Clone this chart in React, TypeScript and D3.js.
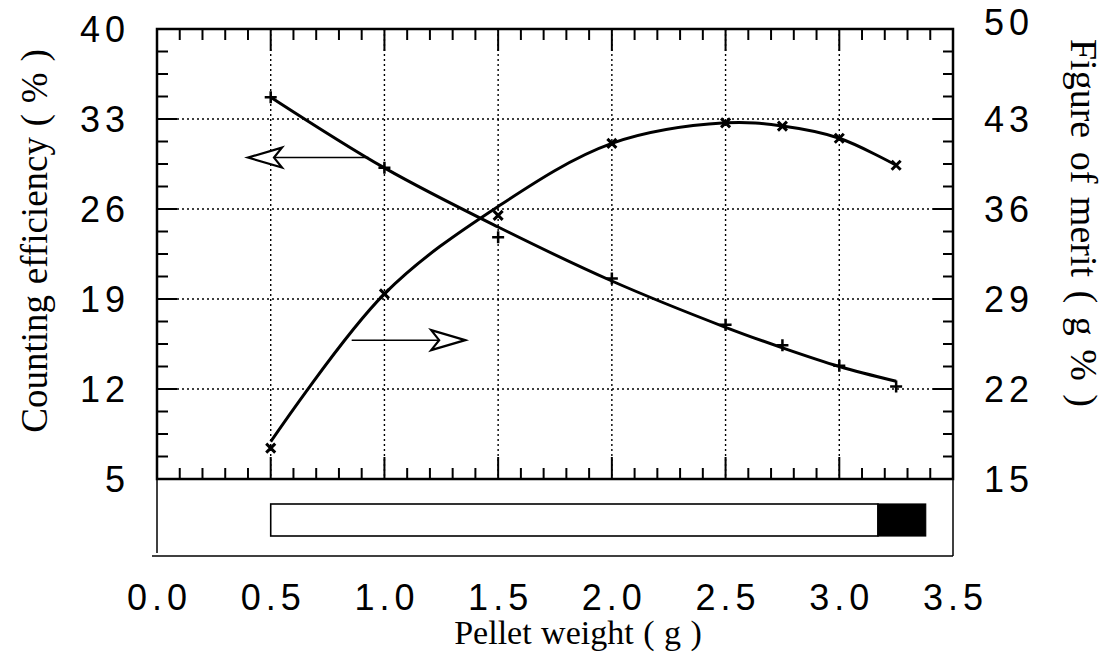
import React from "react";
import * as d3 from "d3";

// ---- data ----
const weights = [0.5, 1.0, 1.5, 2.0, 2.5, 2.75, 3.0, 3.25];
// measured points (left axis, "+" markers)
const efficiency = [34.7, 29.2, 23.8, 20.6, 17.0, 15.4, 13.8, 12.2];
// measured points (right axis, "x" markers)
const merit = [17.4, 29.4, 35.5, 41.1, 42.7, 42.45, 41.5, 39.4];
// fitted curves as drawn in the picture
const efficiencyFit = [34.7, 29.2, 24.6, 20.4, 16.8, 15.2, 13.75, 12.6];
const meritFit = [17.9, 29.4, 36.2, 41.1, 42.7, 42.45, 41.5, 39.4];

const xTickValues = [0, 0.5, 1.0, 1.5, 2.0, 2.5, 3.0, 3.5];
const xTickLabels = ["0.0", "0.5", "1.0", "1.5", "2.0", "2.5", "3.0", "3.5"];
const leftTickValues = [5, 12, 19, 26, 33, 40];
const leftTickLabels = ["5", "12", "19", "26", "33", "40"];
const rightTickValues = [15, 22, 29, 36, 43, 50];
const rightTickLabels = ["15", "22", "29", "36", "43", "50"];

// range bar in the lower panel (pellet weight)
const barWhite = [0.5, 3.17];
const barBlack = [3.17, 3.38];

// arrows: tip x, tail x, y
const leftArrow = { tip: 0.4, tail: 0.93, y: 30.0 }; // y on left axis
const rightArrow = { tip: 1.355, tail: 0.856, y: 25.8 }; // y on right axis

const W = 1112;
const H = 667;
const L = 157, R = 953, T = 29, B = 479;

export default function App() {
  const x = d3.scaleLinear().domain([0, 3.5]).range([L, R]);
  const yL = d3.scaleLinear().domain([5, 40]).range([B, T]);
  const yR = d3.scaleLinear().domain([15, 50]).range([B, T]);

  const lineL = d3
    .line<number>()
    .x((_, i) => x(weights[i]))
    .y((d) => yL(d))
    .curve(d3.curveCatmullRom.alpha(0.5));
  const lineR = d3
    .line<number>()
    .x((_, i) => x(weights[i]))
    .y((d) => yR(d))
    .curve(d3.curveCatmullRom.alpha(0.5));

  const xMinor = d3.range(0, 36).map((i) => i / 10);
  const yMinorL = d3.range(0, 21).map((i) => 5 + i * 1.75);
  const yMinorR = d3.range(0, 21).map((i) => 15 + i * 1.75);

  const tickFont = {
    fontFamily: "'Liberation Sans', Arial, sans-serif",
    fontSize: 36,
    letterSpacing: 5,
  } as React.CSSProperties;
  const titleFont = {
    fontFamily: "'Liberation Serif', 'Times New Roman', serif",
  } as React.CSSProperties;

  const arrowHead = (tx: number, ty: number, dir: number) => {
    const b = -dir * 34;
    const n = -dir * 26;
    return `M${tx},${ty} L${tx + b},${ty - 10} L${tx + n},${ty} L${tx + b},${ty + 10} Z`;
  };

  const laTip = x(leftArrow.tip), laY = yL(leftArrow.y);
  const raTip = x(rightArrow.tip), raY = yR(rightArrow.y);

  return (
    <svg
      width={W}
      height={H}
      style={{ position: "absolute", left: 0, top: 0, background: "#fff" }}
    >
      <rect x={0} y={0} width={W} height={H} fill="#fff" />
      {/* grid */}
      <g stroke="#000" strokeWidth={1.4} strokeDasharray="2,3">
        {xTickValues
          .filter((v) => v > 0 && v < 3.5)
          .map((v) => (
            <line key={"gx" + v} x1={x(v)} x2={x(v)} y1={T} y2={B} />
          ))}
        {leftTickValues
          .filter((v) => v > 5 && v < 40)
          .map((v) => (
            <line key={"gy" + v} x1={L} x2={R} y1={yL(v)} y2={yL(v)} />
          ))}
      </g>

      {/* ticks */}
      <g stroke="#000" strokeWidth={2}>
        {xMinor.map((v) => {
          const major = Math.abs(v * 2 - Math.round(v * 2)) < 1e-6;
          const len = major ? 22 : 11;
          return (
            <g key={"xt" + v}>
              <line x1={x(v)} x2={x(v)} y1={B} y2={B - len} />
              <line x1={x(v)} x2={x(v)} y1={T} y2={T + len} />
            </g>
          );
        })}
        {yMinorL.map((v, i) => {
          const major = i % 4 === 0;
          return (
            <line key={"ylt" + i} x1={L} x2={L + (major ? 20 : 11)} y1={yL(v)} y2={yL(v)} />
          );
        })}
        {yMinorR.map((v, i) => {
          const major = i % 4 === 0;
          return (
            <line key={"yrt" + i} x1={R} x2={R - (major ? 20 : 10)} y1={yR(v)} y2={yR(v)} />
          );
        })}
      </g>

      {/* frame */}
      <rect x={L} y={T} width={R - L} height={B - T} fill="none" stroke="#000" strokeWidth={2.5} />

      {/* lower panel */}
      <g stroke="#000" strokeWidth={1.5}>
        <line x1={L} x2={L} y1={B} y2={553} />
        <line x1={R} x2={R} y1={B} y2={556} />
        <line x1={152} x2={R} y1={556} y2={556} />
      </g>
      <rect
        x={x(barWhite[0])}
        y={504}
        width={x(barWhite[1]) - x(barWhite[0])}
        height={32}
        fill="#fff"
        stroke="#000"
        strokeWidth={1.6}
      />
      <rect
        x={x(barBlack[0])}
        y={504}
        width={x(barBlack[1]) - x(barBlack[0])}
        height={32}
        fill="#000"
        stroke="#000"
        strokeWidth={1.2}
      />

      {/* curves */}
      <path d={lineL(efficiencyFit) || ""} fill="none" stroke="#000" strokeWidth={3} />
      <path d={lineR(meritFit) || ""} fill="none" stroke="#000" strokeWidth={3} />

      {/* markers */}
      <g stroke="#000" strokeWidth={2.5}>
        {efficiency.map((v, i) => {
          const cx = x(weights[i]), cy = yL(v);
          return (
            <path key={"pe" + i} d={`M${cx - 6},${cy} H${cx + 6} M${cx},${cy - 6} V${cy + 6}`} />
          );
        })}
      </g>
      <g stroke="#000" strokeWidth={3}>
        {merit.map((v, i) => {
          const cx = x(weights[i]), cy = yR(v);
          return (
            <path
              key={"pm" + i}
              d={`M${cx - 4.5},${cy - 4.5} L${cx + 4.5},${cy + 4.5} M${cx + 4.5},${cy - 4.5} L${cx - 4.5},${cy + 4.5}`}
            />
          );
        })}
      </g>

      {/* arrows */}
      <line x1={laTip + 26} x2={x(leftArrow.tail)} y1={laY} y2={laY} stroke="#000" strokeWidth={1.5} />
      <path d={arrowHead(laTip, laY, -1)} fill="#fff" stroke="#000" strokeWidth={2.2} />
      <line x1={x(rightArrow.tail)} x2={raTip - 26} y1={raY} y2={raY} stroke="#000" strokeWidth={1.5} />
      <path d={arrowHead(raTip, raY, 1)} fill="#fff" stroke="#000" strokeWidth={2.2} />

      {/* tick labels */}
      <g style={tickFont} fill="#000">
        {xTickValues.map((v, i) => (
          <text key={"xl" + i} x={x(v) + 2.5} y={610} textAnchor="middle">
            {xTickLabels[i]}
          </text>
        ))}
        {leftTickValues.map((v, i) => (
          <text key={"ll" + i} x={130} y={yL(v) + 13} textAnchor="end">
            {leftTickLabels[i]}
          </text>
        ))}
        {rightTickValues.map((v, i) => (
          <text key={"rl" + i} x={984} y={yR(v) + 13 - (v === 50 ? 7 : 0)} textAnchor="start">
            {rightTickLabels[i]}
          </text>
        ))}
      </g>

      {/* titles */}
      <g style={titleFont} fill="#000">
        <text x={578} y={644} textAnchor="middle" fontSize={34} wordSpacing={1}>
          Pellet weight ( g )
        </text>
        <text
          transform={`translate(47,241) rotate(-90)`}
          textAnchor="middle"
          fontSize={37}
          wordSpacing={1.5}
        >
          Counting efficiency ( % )
        </text>
        <text
          transform={`translate(1071,223) rotate(90)`}
          textAnchor="middle"
          fontSize={38}
          wordSpacing={4}
        >
          Figure of merit ( g % )
        </text>
      </g>
    </svg>
  );
}
